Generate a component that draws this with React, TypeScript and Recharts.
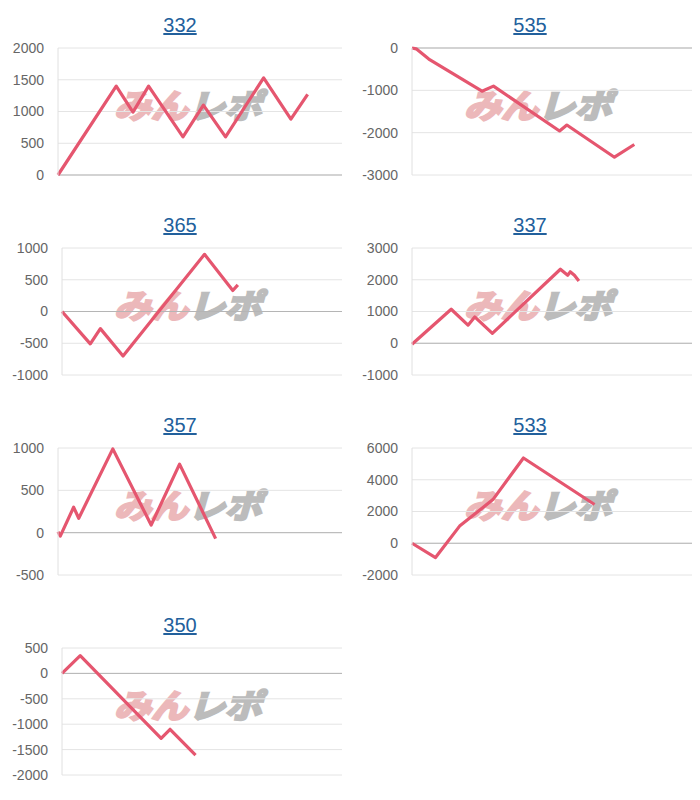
import { LineChart, Line, XAxis, YAxis, CartesianGrid, ReferenceLine } from 'recharts'

// x = progress along the common game axis (0..100), y = balance
const x332 = [0, 20.5, 26.4, 31.9, 44, 51.2, 59, 72.4, 82, 87.9]
const y332 = [0, 1400, 990, 1400, 600, 1100, 600, 1530, 880, 1270]
const ticks332 = [0, 500, 1000, 1500, 2000]

const x535 = [0, 1.5, 6, 25, 29.1, 52.7, 55.3, 72.3, 79.4]
const y535 = [0, -20, -260, -1020, -900, -1960, -1820, -2580, -2280]
const ticks535 = [-3000, -2000, -1000, 0]

const x365 = [0, 10.1, 13.7, 21.8, 50.9, 61, 62.8]
const y365 = [0, -510, -270, -700, 900, 330, 420]
const ticks365 = [-1000, -500, 0, 500, 1000]

const x337 = [0, 14, 20, 22.4, 28.7, 53, 55.6, 56.5, 58, 59.6]
const y337 = [-30, 1070, 570, 830, 310, 2330, 2140, 2250, 2140, 1960]
const ticks337 = [-1000, 0, 1000, 2000, 3000]

const x357 = [0, 0.8, 5.5, 7.3, 19.3, 32.8, 42.8, 55.5]
const y357 = [10, -40, 300, 170, 990, 90, 810, -70]
const ticks357 = [-500, 0, 500, 1000]

const x533 = [0, 8.4, 17, 28.9, 39.8, 65.2]
const y533 = [0, -900, 1080, 2750, 5370, 2440]
const ticks533 = [-2000, 0, 2000, 4000, 6000]

const x350 = [0, 6.5, 35.4, 38.6, 47.7]
const y350 = [0, 350, -1280, -1100, -1610]
const ticks350 = [-2000, -1500, -1000, -500, 0, 500]

const charts = [
  { title: '332', xs: x332, ys: y332, ticks: ticks332, yWidth: 58 },
  { title: '535', xs: x535, ys: y535, ticks: ticks535, yWidth: 62 },
  { title: '365', xs: x365, ys: y365, ticks: ticks365, yWidth: 62 },
  { title: '337', xs: x337, ys: y337, ticks: ticks337, yWidth: 62 },
  { title: '357', xs: x357, ys: y357, ticks: ticks357, yWidth: 58 },
  { title: '533', xs: x533, ys: y533, ticks: ticks533, yWidth: 62 },
  { title: '350', xs: x350, ys: y350, ticks: ticks350, yWidth: 62 },
]

const FONT = '"Liberation Sans", Arial, Helvetica, sans-serif'

function Watermark() {
  return (
    <div style={{
      position: 'absolute', left: 118, top: 86, whiteSpace: 'nowrap',
      fontFamily: '"Noto Sans CJK JP", sans-serif', fontWeight: 700, fontSize: 33,
      lineHeight: '36px', transform: 'skewX(-16deg) scaleX(1.12)', transformOrigin: 'left center',
      letterSpacing: 0,
    }}>
      <span style={{ color: '#ecb8ba', WebkitTextStroke: '2.5px #ecb8ba' }}>みん</span>
      <span style={{ color: '#bcbcbc', WebkitTextStroke: '2.5px #bcbcbc' }}>レポ</span>
    </div>
  )
}

function Panel({ chart, left, top }: any) {
  const data = chart.xs.map((x: number, i: number) => ({ x, y: chart.ys[i] }))
  const t = chart.ticks
  return (
    <div style={{ position: 'absolute', left, top, width: 350, height: 200 }}>
      <div style={{
        position: 'absolute', left: 0, top: 14, width: 360, textAlign: 'center',
        fontFamily: FONT, fontSize: 20, color: '#22609c', textDecoration: 'underline',
      }}>{chart.title}</div>
      <Watermark />
      <div style={{ position: 'absolute', left: 0, top: 0 }}>
        <LineChart width={350} height={200} data={data} margin={{ top: 48, right: 8, bottom: 25, left: 0 }}>
          <CartesianGrid horizontal vertical={false} stroke="#e4e4e4" />
          <XAxis type="number" dataKey="x" domain={[0, 100]} hide />
          <YAxis
            type="number"
            domain={[t[0], t[t.length - 1]]}
            ticks={t}
            interval={0}
            width={chart.yWidth}
            tickSize={0}
            tickMargin={14}
            tickLine={false}
            axisLine={{ stroke: '#e0e0e0' }}
            tick={{ fontSize: 14, fill: '#666', fontFamily: FONT }}
          />
          <ReferenceLine y={0} stroke="#b5b5b5" strokeWidth={1} />
          <Line
            type="linear"
            dataKey="y"
            stroke="#e5566f"
            strokeWidth={3.2}
            strokeLinejoin="round"
            dot={false}
            isAnimationActive={false}
          />
        </LineChart>
      </div>
    </div>
  )
}

export default function App() {
  return (
    <div style={{ position: 'absolute', left: 0, top: 0, width: 700, height: 800, background: '#fff' }}>
      {charts.map((c, i) => (
        <Panel key={c.title} chart={c} left={(i % 2) * 350} top={Math.floor(i / 2) * 200} />
      ))}
    </div>
  )
}
